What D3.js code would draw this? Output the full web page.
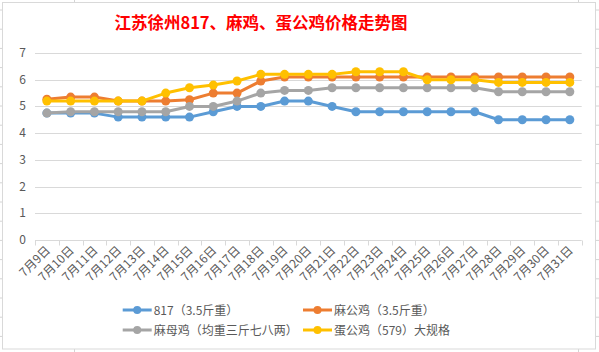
<!DOCTYPE html>
<html><head><meta charset="utf-8">
<script src="https://cdn.jsdelivr.net/npm/d3@7"></script>
<style>
html,body{margin:0;padding:0;background:#fff;}
svg{display:block;font-family:"Noto Sans CJK SC","Noto Sans",sans-serif;}
</style></head>
<body><svg id="c" width="599" height="352"></svg>
<script>
const title = "江苏徐州817、麻鸡、蛋公鸡价格走势图";
const categories = ["7月9日","7月10日","7月11日","7月12日","7月13日","7月14日","7月15日","7月16日","7月17日","7月18日","7月19日","7月20日","7月21日","7月22日","7月23日","7月24日","7月25日","7月26日","7月27日","7月28日","7月29日","7月30日","7月31日"];
const seriesNames = ["817（3.5斤重）","麻公鸡（3.5斤重）","麻母鸡（均重三斤七八两）","蛋公鸡（579）大规格"];
const s817   = [4.75,4.75,4.75,4.6,4.6,4.6,4.6,4.8,5.0,5.0,5.2,5.2,5.0,4.8,4.8,4.8,4.8,4.8,4.8,4.5,4.5,4.5,4.5];
const maGong = [5.27,5.35,5.35,5.2,5.2,5.2,5.25,5.5,5.5,5.95,6.1,6.1,6.1,6.1,6.1,6.1,6.1,6.1,6.1,6.1,6.1,6.1,6.1];
const maMu   = [4.75,4.8,4.8,4.8,4.8,4.8,5.0,5.0,5.2,5.5,5.6,5.6,5.7,5.7,5.7,5.7,5.7,5.7,5.7,5.55,5.55,5.55,5.55];
const danGong= [5.2,5.2,5.2,5.2,5.2,5.5,5.7,5.8,5.95,6.2,6.2,6.2,6.2,6.3,6.3,6.3,6.0,6.0,6.0,5.9,5.9,5.9,5.9];
const yTicks = [0,1,2,3,4,5,6,7];
const colors = ["#5b9bd5","#ed7d31","#a5a5a5","#ffc000"];

const svg = d3.select("#c");
// spreadsheet gridlines behind chart
const sheet = svg.append("g");
for (let y = 10; y < 352; y += 19.2) sheet.append("line").attr("x1",0).attr("x2",599).attr("y1",y).attr("y2",y).attr("stroke","#d4d4d4");
[74.5, 578.5].forEach(x => sheet.append("line").attr("x1",x).attr("x2",x).attr("y1",0).attr("y2",352).attr("stroke","#d4d4d4"));
// chart area
svg.append("rect").attr("x",2.5).attr("y",2.5).attr("width",593).attr("height",346.5).attr("fill","#fff").attr("stroke","#d9d9d9");

svg.append("text").attr("x",261).attr("y",29).attr("text-anchor","middle")
  .attr("fill","#ff0000").attr("font-weight","bold").attr("font-size","16.5px").text(title);

const x0 = 35, x1 = 581.7, yTop = 53, yBot = 240;
const x = d3.scaleBand().domain(categories).range([x0, x1]);
const y = d3.scaleLinear().domain([0,7]).range([yBot, yTop]);

// gridlines
svg.append("g").selectAll("line").data(yTicks.filter(d=>d>0)).join("line")
  .attr("x1",x0).attr("x2",x1).attr("y1",d=>Math.round(y(d))+0.5).attr("y2",d=>Math.round(y(d))+0.5)
  .attr("stroke","#d9d9d9");
// y labels
svg.append("g").selectAll("text").data(yTicks).join("text")
  .attr("x",26).attr("y",d=>y(d)+4).attr("text-anchor","end").attr("font-size","12px").attr("fill","#595959").text(d=>d);

// x axis
const xAxis = svg.append("g").attr("transform",`translate(0,${Math.round(yBot)+0.5})`);
xAxis.append("line").attr("x1",x0).attr("x2",x1).attr("stroke","#d9d9d9");
const bounds = categories.map(c=>x(c)).concat([x1]);
xAxis.selectAll("line.t").data(bounds).join("line").attr("class","t")
  .attr("x1",d=>Math.round(d)+0.5).attr("x2",d=>Math.round(d)+0.5).attr("y1",0).attr("y2",5).attr("stroke","#d9d9d9");
svg.append("g").selectAll("text").data(categories).join("text")
  .attr("transform",d=>`translate(${x(d)+x.bandwidth()/2+4},${yBot+11}) rotate(-45)`)
  .attr("text-anchor","end").attr("font-size","12px").attr("fill","#595959").text(d=>d);

// lines
const data = [s817, maGong, maMu, danGong];
const line = d3.line().x((d,i)=>x(categories[i])+x.bandwidth()/2).y(d=>y(d));
data.forEach((vals, k) => {
  const g = svg.append("g");
  g.append("path").attr("d",line(vals)).attr("fill","none").attr("stroke",colors[k]).attr("stroke-width",3).attr("stroke-linejoin","round");
  g.selectAll("circle").data(vals).join("circle")
    .attr("cx",(d,i)=>x(categories[i])+x.bandwidth()/2).attr("cy",d=>y(d)).attr("r",4.5).attr("fill",colors[k]);
});

// legend
const legPos = [[122.7,310],[303,310],[122.7,330],[303,330]];
seriesNames.forEach((n,k)=>{
  const [lx,ly] = legPos[k];
  const g = svg.append("g");
  g.append("line").attr("x1",lx).attr("x2",lx+29).attr("y1",ly).attr("y2",ly).attr("stroke",colors[k]).attr("stroke-width",3);
  g.append("circle").attr("cx",lx+14.5).attr("cy",ly).attr("r",4).attr("fill",colors[k]);
  g.append("text").attr("x",lx+31).attr("y",ly+4.5).attr("font-size","12px").attr("fill","#595959").text(n);
});
</script></body></html>
